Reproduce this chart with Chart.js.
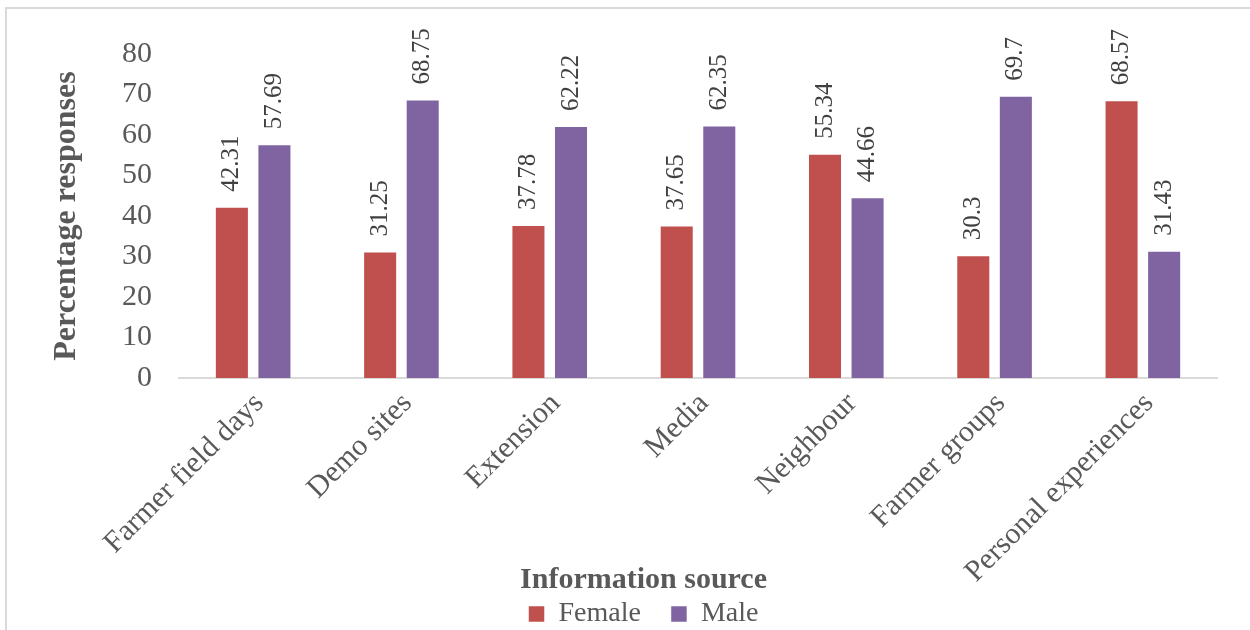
<!DOCTYPE html>
<html>
<head>
<meta charset="utf-8">
<script src="https://cdn.jsdelivr.net/npm/chart.js@4"></script>
<style>
  html, body { margin: 0; padding: 0; background: #fff; }
  #wrap { position: relative; width: 1250px; height: 630px; overflow: hidden; }
  #frame { position: absolute; left: 5px; top: 7px; width: 1300px; height: 700px; border: 2px solid #d9d9d9; box-sizing: border-box; pointer-events: none; }
  #chart { position: absolute; left: 0; top: 0; }
</style>
</head>
<body>
<div id="wrap">
  <div id="frame"></div>
  <canvas id="chart" width="1250" height="630"></canvas>
</div>
<script>
const categories = ["Farmer field days", "Demo sites", "Extension", "Media", "Neighbour", "Farmer groups", "Personal experiences"];
const female = [42.31, 31.25, 37.78, 37.65, 55.34, 30.3, 68.57];
const male = [57.69, 68.75, 62.22, 62.35, 44.66, 69.7, 31.43];
const yTicks = [0, 10, 20, 30, 40, 50, 60, 70, 80];

const serif = "'Liberation Serif', 'Times New Roman', serif";
const grey = "#595959";

// value labels, rotated, sitting on top of each bar
const barLabels = {
  id: "barLabels",
  afterDatasetsDraw(chart) {
    const ctx = chart.ctx;
    ctx.save();
    ctx.font = "25px " + serif;
    ctx.fillStyle = "#404040";
    ctx.textAlign = "left";
    ctx.textBaseline = "middle";
    chart.data.datasets.forEach((ds, i) => {
      chart.getDatasetMeta(i).data.forEach((bar, j) => {
        ctx.save();
        ctx.translate(bar.x, bar.y - 15);
        ctx.rotate(-Math.PI / 2);
        ctx.fillText(String(ds.data[j]), 0, 0);
        ctx.restore();
      });
    });
    ctx.restore();
  }
};

// the long rotated category names run past the x scale box; widen its label clip after layout
const freeLabels = {
  id: "freeLabels",
  afterLayout(chart) {
    chart.scales.x.bottom = chart.height;
  }
};

new Chart(document.getElementById("chart"), {
  type: "bar",
  data: {
    labels: categories,
    datasets: [
      { label: "Female", data: female, backgroundColor: "#C0504D", borderColor: "rgba(255,255,255,0.5)", borderWidth: 1, categoryPercentage: 0.574, barPercentage: 0.8 },
      { label: "Male", data: male, backgroundColor: "#8064A2", borderColor: "rgba(255,255,255,0.5)", borderWidth: 1, categoryPercentage: 0.574, barPercentage: 0.8 }
    ]
  },
  plugins: [barLabels, freeLabels],
  options: {
    responsive: false,
    animation: false,
    layout: { padding: { left: 70, right: 33, top: 54, bottom: -8 } },
    plugins: {
      tooltip: { enabled: false },
      title: {
        display: true,
        text: "Information source",
        position: "bottom",
        weight: 500,
        color: grey,
        font: { family: serif, size: 30, weight: "bold" },
        padding: { top: 0, bottom: -28 }
      },
      legend: {
        position: "bottom",
        labels: {
          color: grey,
          font: { family: serif, size: 28 },
          boxWidth: 16,
          boxHeight: 16,
          padding: 30
        }
      }
    },
    scales: {
      x: {
        grid: { display: false },
        border: { display: true, color: "#d9d9d9", width: 2 },
        ticks: { color: grey, font: { family: serif, size: 30 }, minRotation: 45, maxRotation: 45, autoSkip: false, padding: 0, labelOffset: 6 },
        afterFit(scale) { scale.height = 184; }
      },
      y: {
        min: 0,
        max: 80,
        grid: { display: false },
        border: { display: false },
        afterBuildTicks(scale) { scale.ticks = yTicks.map(v => ({ value: v })); },
        ticks: { color: grey, font: { family: serif, size: 30 }, padding: 19, autoSkip: false },
        title: {
          display: true,
          text: "Percentage responses",
          color: grey,
          font: { family: serif, size: 32, weight: "bold" },
          padding: { top: -22, bottom: 0 }
        },
        afterFit(scale) { scale.width = 109; }
      }
    }
  }
});
</script>
</body>
</html>
